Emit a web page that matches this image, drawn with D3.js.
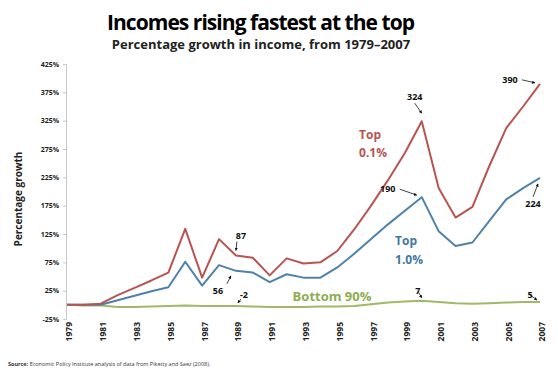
<!DOCTYPE html>
<meta charset="utf-8">
<script src="https://cdn.jsdelivr.net/npm/d3@7"></script>
<style>
body { margin: 0; background: #fff; }
text { font-family: "Open Sans", "DejaVu Sans", sans-serif; }
.axis path, .axis line { stroke: #c8c8c8; }
.axis text { font-size: 7px; font-weight: bold; fill: #222; }
</style>
<body>
<script>
var years = d3.range(1979, 2008)
var top01 = [0, 0, 2, 17, 30, 43, 57, 134, 48, 116, 87, 83, 52, 82, 73, 75, 95, 133, 175, 220, 268, 324, 206, 154, 173, 245, 312, 350, 390]
var top1 = [0, 0, 0, 8, 16, 24, 31, 76, 34, 70, 60, 57, 40, 54, 48, 48, 66, 90, 116, 142, 166, 190, 130, 104, 110, 148, 186, 206, 224]
var bottom90 = [0, -1, -1, -4, -4, -3, -2, -1, -2, -2, -2, -3, -4, -4, -4, -3, -3, -2, 1, 4, 6, 7, 5, 3, 2, 3, 4, 5, 5]
var yTicks = [-25, 25, 75, 125, 175, 225, 275, 325, 375, 425]
var xTicks = d3.range(1979, 2008, 2)

var series = [
  {name: "top01", values: top01, color: "#b85452"},
  {name: "top1", values: top1, color: "#4f82aa"},
  {name: "bottom90", values: bottom90, color: "#a3b866"}
]

// callouts: which series, which year, label, text offset from the point
var notes = [
  {s: "top01", year: 2000, label: "324", dx: -7, dy: -24, tx: 0, ty: -8},
  {s: "top01", year: 2007, label: "390", dx: -30, dy: -4, tx: -5, ty: -1},
  {s: "top01", year: 1989, label: "87", dx: 5, dy: -20, tx: 0, ty: -5},
  {s: "top1", year: 2000, label: "190", dx: -34, dy: -8, tx: -5, ty: -2},
  {s: "top1", year: 2007, label: "224", dx: -7, dy: 26, tx: -2, ty: 6},
  {s: "top1", year: 1989, label: "56", dx: -18, dy: 20, tx: -5, ty: 5},
  {s: "bottom90", year: 1989, label: "-2", dx: 8, dy: -11, tx: 2, ty: -3},
  {s: "bottom90", year: 2000, label: "7", dx: -4, dy: -10, tx: 0, ty: -3},
  {s: "bottom90", year: 2007, label: "5", dx: -10, dy: -7, tx: -3, ty: -2}
]

var W = 558, H = 374
var svg = d3.select("body").append("svg").attr("width", W).attr("height", H)

svg.append("defs").append("marker").attr("id", "arr").attr("viewBox", "0 0 10 10")
  .attr("refX", 9).attr("refY", 5).attr("markerWidth", 4).attr("markerHeight", 4)
  .attr("orient", "auto").append("path").attr("d", "M0,0L10,5L0,10z").attr("fill", "#111")

var x = d3.scaleLinear().domain([1979, 2007]).range([67, 540])
var y = d3.scaleLinear().domain([-25, 425]).range([319, 64])

svg.append("text").attr("x", 261).attr("y", 30).attr("text-anchor", "middle")
  .style("font-size", "21px").style("font-weight", "bold").attr("textLength", 308)
  .text("Incomes rising fastest at the top")
svg.append("text").attr("x", 261).attr("y", 49).attr("text-anchor", "middle")
  .style("font-size", "13px").style("font-weight", "bold").attr("fill", "#222")
  .text("Percentage growth in income, from 1979\u20132007")

var ya = svg.append("g").attr("class", "axis").attr("transform", "translate(66,0)")
  .call(d3.axisLeft(y).tickValues(yTicks).tickSize(3).tickFormat(function(d){ return d + "%" }))
ya.selectAll("text").attr("x", -7)

var xa = svg.append("g").attr("class", "axis").attr("transform", "translate(0,319)")
  .call(d3.axisBottom(x).tickValues(xTicks).tickSize(0).tickFormat(d3.format("d")))
xa.select(".domain").remove()
xa.selectAll("text").attr("transform", "rotate(-90)").attr("text-anchor", "end")
  .attr("x", -3).attr("y", 2).attr("dy", "0.35em").style("font-size", "8.5px")

svg.append("text").attr("transform", "translate(22,199) rotate(-90)").attr("text-anchor", "middle")
  .style("font-size", "10px").style("font-weight", "bold").attr("fill", "#222")
  .text("Percentage growth")

var line = d3.line().x(function(d, i){ return x(years[i]) }).y(function(d){ return y(d) })
svg.selectAll(".series").data(series.slice().reverse()).enter().append("path")
  .attr("fill", "none").attr("stroke", function(d){ return d.color }).attr("stroke-width", 2)
  .attr("stroke-linejoin", "round").attr("d", function(d){ return line(d.values) })

var byName = {}
series.forEach(function(s){ byName[s.name] = s.values })

var ng = svg.append("g")
notes.forEach(function(n){
  var px = x(n.year), py = y(byName[n.s][n.year - 1979])
  var lx = px + n.dx, ly = py + n.dy
  ng.append("text").attr("x", lx).attr("y", ly).attr("text-anchor", "middle").attr("dy", "0.35em")
    .style("font-size", "9px").style("font-weight", "bold").attr("fill", "#111").text(n.label)
  var sx = lx + (n.dx < -20 ? 11 : n.dx > 0 ? -4 : (n.dx < -12 ? 9 : 0))
  var sy = ly + (n.dy > 0 ? -7 : (n.dy < -12 ? 6 : 0))
  if (n.dx <= -20 && Math.abs(n.dy) < 12) { sx = lx + 12; sy = ly }
  if (n.dx > 0 && n.dy > -12) { sx = lx - 3; sy = ly + 4 }
  ng.append("line").attr("x1", sx).attr("y1", sy).attr("x2", px + n.tx).attr("y2", py + n.ty)
    .attr("stroke", "#111").attr("stroke-width", 0.8).attr("marker-end", "url(#arr)")
})

var tl = svg.append("text").style("font-size", "12px").style("font-weight", "bold").attr("fill", "#b85452")
tl.append("tspan").attr("x", x(1997) - 12).attr("y", 139).text("Top")
tl.append("tspan").attr("x", x(1997) - 12).attr("y", 157).text("0.1%")
var bl = svg.append("text").style("font-size", "12px").style("font-weight", "bold").attr("fill", "#4377a3")
bl.append("tspan").attr("x", x(1997) + 24).attr("y", 245).text("Top")
bl.append("tspan").attr("x", x(1997) + 24).attr("y", 264).text("1.0%")
svg.append("text").attr("x", x(1992) + 6).attr("y", 301).style("font-size", "13px").style("font-weight", "bold")
  .attr("fill", "#8fab4f").text("Bottom 90%")

var src = svg.append("text").attr("x", 8).attr("y", 366).style("font-size", "5.5px").attr("fill", "#333")
src.append("tspan").style("font-weight", "bold").text("Source: ")
src.append("tspan").text("Economic Policy Institute analysis of data from Piketty and Saez (2008).")
</script>
</body>
